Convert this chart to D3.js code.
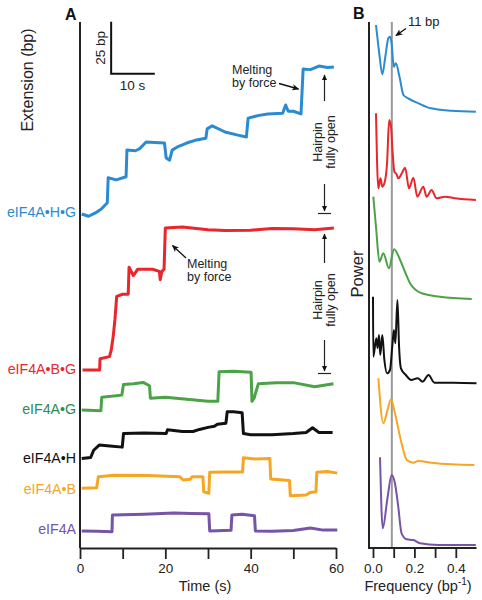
<!DOCTYPE html>
<html><head><meta charset="utf-8">
<script src="https://cdn.jsdelivr.net/npm/d3@7"></script>
<style>body{margin:0;background:#fff}svg{display:block}text{font-family:"Liberation Sans",Arial,Helvetica,sans-serif}</style>
</head><body><svg id="c" width="482" height="600"></svg>
<script>
// ---------- DATA ----------
const seriesNames = ["eIF4A•H•G","eIF4A•B•G","eIF4A•G","eIF4A•H","eIF4A•B","eIF4A"];
const seriesColors = ["#2a8bd0","#e8262c","#4ca247","#111111","#f6a623","#7654a6"];
const labelColors  = ["#2a8bd0","#e8262c","#2e8a52","#111111","#f6a623","#7654a6"];
// Panel A traces: [time (s), extension (bp)]
const traceHG = [[0.4,160.6],[2,159.5],[3.5,161],[5,163],[6.4,166],[6.6,178],[8.5,177],[10.8,178.5],[11,191.3],[13,191],[14,192],[15.5,195.2],[17.5,195],[19.8,194.7],[20.2,187.5],[21,186.5],[21.6,191.3],[23,193],[25,194.7],[27,196],[29.5,197],[29.8,201.5],[31,203],[34,200],[37,198.5],[39,197.6],[39.4,206.7],[42,208],[44,208.7],[47.5,209],[48.2,213],[48.8,210],[50,210],[51.8,208.7],[52.3,230.3],[54,230],[55,230.8],[56,231.7],[58,231],[59.5,231.3]];
const traceBG = [[0.6,85.6],[4.6,85.6],[4.7,91],[6.9,92],[7.3,95],[7.8,102],[8.2,110],[8.6,121],[10,122],[11.3,122],[11.5,135],[12.5,131],[13.5,134],[17,134],[18.6,133],[18.8,129],[19.2,133],[19.7,134],[20.0,153.8],[24,154.3],[30,153],[34,152.6],[40,152.8],[45,153.6],[50,153.5],[55,153],[59.5,153.8]];
const traceG  = [[0.4,66.3],[4.9,66],[5.1,72.5],[9.8,73.5],[10.2,78.6],[12.5,79],[14.8,79.6],[16.3,78],[16.5,72],[20,72.5],[25,71.5],[30,70.6],[32.3,70.5],[32.6,84.8],[36,85],[40.1,84.5],[40.3,70.5],[40.8,72],[41.8,79],[46,79.5],[50,79.5],[55,77.5],[59.4,79]];
const traceH  = [[0.4,43],[2.5,43.5],[3.2,47],[4.5,49.5],[7,49],[9.9,48.5],[10.2,55],[15,55.3],[20.2,55],[20.5,56.8],[24,56],[26.5,56],[28,57],[30,58],[31.5,58.5],[32.2,59.5],[34.2,60],[34.5,65.5],[36,65.5],[38,65],[38.3,55],[40,54.5],[45,54.5],[50,55],[53,55.5],[54.5,57.8],[56,55.5],[59.2,55.5]];
const traceB  = [[0.4,28.7],[3.9,29],[4.3,34.3],[8,35],[16,34.8],[23.4,34.2],[24.2,32.7],[25.8,33],[26.3,34.3],[28.8,34.3],[29.0,27],[30.2,26.3],[30.4,36.4],[34,36.5],[38.1,36.5],[38.3,43.4],[41,42.8],[44.5,43],[44.7,33.2],[49.1,32.5],[49.3,25.1],[53,25.5],[53.9,26.7],[55.3,27],[55.5,36.4],[58,36.8],[60.3,36]];
const traceA  = [[0.4,8.2],[4,8],[7.5,7.8],[7.6,15.9],[15,16.2],[22,16.8],[26,16.6],[30.2,16.5],[30.4,8.2],[35.4,8.5],[35.6,15.9],[38,16.2],[40.9,15.5],[41.1,8.2],[45,8],[50,8.4],[54,9.6],[57,8.6],[60.3,8.6]];
const traces = [traceHG, traceBG, traceG, traceH, traceB, traceA];
// Panel B spectra: [frequency (bp^-1), power (a.u., offset per construct)]
const specHG = [[0.0145,523],[0.03,495],[0.045,473.7],[0.06,492],[0.074,509.7],[0.082,511.3],[0.09,504.7],[0.1,481.3],[0.11,484.7],[0.128,471.3],[0.147,453],[0.17,449.7],[0.22,444.7],[0.28,439.7],[0.38,437.3],[0.497,436.3]];
const specBG = [[0.0145,434.7],[0.0257,359.7],[0.036,369.7],[0.045,361.3],[0.055,364.7],[0.068,385],[0.078,428],[0.087,421.3],[0.095,395],[0.103,376.3],[0.114,373.7],[0.122,369.7],[0.14,375],[0.155,380.3],[0.174,359.7],[0.195,370.3],[0.214,351.3],[0.243,361.3],[0.259,351.3],[0.283,358],[0.307,349.7],[0.348,351.3],[0.396,349.7],[0.497,348]];
const specG  = [[0.0015,351.3],[0.015,320],[0.031,286.3],[0.05,294.7],[0.077,279.7],[0.102,298.7],[0.131,288],[0.155,276],[0.179,264.7],[0.235,254.7],[0.324,251.3],[0.477,249]];
const specH  = [[0,251.3],[0.0015,191.3],[0.016,209.7],[0.022,200],[0.029,213],[0.035,193],[0.045,213],[0.055,188],[0.068,174.7],[0.082,178],[0.093,201.3],[0.101,218],[0.108,204.7],[0.118,248],[0.126,201.3],[0.135,179.7],[0.159,173],[0.184,168],[0.216,169.7],[0.24,166.3],[0.268,173],[0.297,165.3],[0.39,165.3],[0.5,164.7]];
const specB  = [[0.026,169.7],[0.05,124.7],[0.07,138],[0.087,148.7],[0.106,134.7],[0.138,104.7],[0.163,88],[0.195,85.3],[0.219,87],[0.283,85.3],[0.38,83.7],[0.49,83]];
const specA  = [[0.034,90.7],[0.047,19.7],[0.07,50],[0.09,73],[0.106,64.7],[0.122,41.3],[0.138,14.7],[0.163,8.7],[0.195,8],[0.227,4.7],[0.316,3],[0.497,3]];
const spectra = [specHG, specBG, specG, specH, specB, specA];
const timeTicks = [0,10,20,30,40,50,60];
const timeTickLabels = ["0","","20","","40","","60"];
const freqTicks = [0,0.1,0.2,0.3,0.4];
const freqTickLabels = ["0.0","","0.2","","0.4"];
const peakFreq = 1/11;      // 11 bp periodicity
const scaleBar = {t0:7.3, bp0:228, dt:10, dbp:25};

// ---------- DRAW ----------
const svg = d3.select("#c");
const font = '"Liberation Sans",Arial,Helvetica,sans-serif';
const x = d3.scaleLinear().domain([0,60]).range([80,336]);
const y = d3.scaleLinear().domain([0,252.9]).range([548,22]);
const fx = d3.scaleLinear().domain([0,0.5]).range([373,476.5]);
const fy = d3.scaleLinear().domain([0,526]).range([548,22]);

const defs = svg.append("defs");
defs.append("marker").attr("id","ah").attr("viewBox","0 0 10 10").attr("refX",9).attr("refY",5)
  .attr("markerWidth",7).attr("markerHeight",7).attr("orient","auto-start-reverse").attr("markerUnits","userSpaceOnUse")
  .append("path").attr("d","M0,0.5L10,5L0,9.5L2.5,5Z").attr("fill","#111");
defs.append("marker").attr("id","ah2").attr("viewBox","0 0 10 10").attr("refX",9).attr("refY",5)
  .attr("markerWidth",6).attr("markerHeight",8).attr("orient","auto").attr("markerUnits","userSpaceOnUse")
  .append("path").attr("d","M0,0.5L10,5L0,9.5Z").attr("fill","#111");

// Panel A traces
const line = d3.line().x(d=>x(d[0])).y(d=>y(d[1]));
traces.forEach((tr,i)=>{
  svg.append("path").attr("d",line(tr)).attr("fill","none").attr("stroke",seriesColors[i])
    .attr("stroke-width",3).attr("stroke-linejoin","round");
});
// Panel A axes
svg.append("line").attr("x1",80).attr("x2",80).attr("y1",22).attr("y2",548).attr("stroke","#222").attr("stroke-width",2);
const ax = svg.append("g").attr("transform","translate(0,548)")
  .call(d3.axisBottom(x).tickValues(timeTicks).tickFormat((d,i)=>timeTickLabels[i]).tickSize(11).tickSizeOuter(0).tickPadding(4));
ax.select(".domain").attr("stroke","#222").attr("stroke-width",2);
ax.selectAll(".tick line").attr("stroke","#222").attr("stroke-width",1.8);
ax.selectAll("text").attr("font-size",13.5).attr("fill","#222").style("font-family",font);

svg.append("text").attr("x",205).attr("y",591).attr("text-anchor","middle").attr("font-size",14.5).attr("fill","#222").text("Time (s)");
svg.append("text").attr("transform","translate(33,80) rotate(-90)").attr("text-anchor","middle").attr("font-size",16).attr("fill","#222").text("Extension (bp)");
svg.append("text").attr("x",65).attr("y",20).attr("font-size",16).attr("font-weight","bold").attr("fill","#111").text("A");
svg.append("text").attr("x",353).attr("y",19).attr("font-size",16).attr("font-weight","bold").attr("fill","#111").text("B");

// Series labels
const labelY = [217,374,414,463,494,534];
seriesNames.forEach((n,i)=>{
  svg.append("text").attr("x",76).attr("y",labelY[i]).attr("text-anchor","end").attr("font-size",14.2)
    .attr("fill",labelColors[i]).text(n);
});

// Scale bar
svg.append("path").attr("d",`M${x(scaleBar.t0)},${y(scaleBar.bp0+scaleBar.dbp)}V${y(scaleBar.bp0)}H${x(scaleBar.t0+scaleBar.dt)+1}`)
  .attr("fill","none").attr("stroke","#111").attr("stroke-width",2);
svg.append("text").attr("transform",`translate(${x(scaleBar.t0)-6},${y(scaleBar.bp0+scaleBar.dbp/2)}) rotate(-90)`)
  .attr("text-anchor","middle").attr("font-size",13.5).attr("fill","#222").text("25 bp");
svg.append("text").attr("x",x(scaleBar.t0+scaleBar.dt/2)).attr("y",90).attr("text-anchor","middle").attr("font-size",13.5).attr("fill","#222").text("10 s");

// Annotations: Melting by force
function twoLine(xp,yp,a,b,fs){
  svg.append("text").attr("x",xp).attr("y",yp).attr("font-size",fs).attr("fill","#222").text(a);
  svg.append("text").attr("x",xp).attr("y",yp+fs).attr("font-size",fs).attr("fill","#222").text(b);
}
twoLine(232,74,"Melting","by force",12.5);
svg.append("line").attr("x1",279).attr("y1",83.5).attr("x2",298.5).attr("y2",89).attr("stroke","#111").attr("stroke-width",1.3).attr("marker-end","url(#ah)");
twoLine(187,268,"Melting","by force",12.5);
svg.append("line").attr("x1",186).attr("y1",258).attr("x2",172.5).attr("y2",245.5).attr("stroke","#111").attr("stroke-width",1.3).attr("marker-end","url(#ah)");

// Hairpin fully open
function hairpin(top,bot,cy,t1,b1){
  svg.append("line").attr("x1",324.5).attr("x2",324.5).attr("y1",t1).attr("y2",top).attr("stroke","#222").attr("stroke-width",1.2).attr("marker-end","url(#ah2)");
  svg.append("line").attr("x1",324.5).attr("x2",324.5).attr("y1",b1).attr("y2",bot-1).attr("stroke","#222").attr("stroke-width",1.2).attr("marker-end","url(#ah2)");
  svg.append("line").attr("x1",318).attr("x2",331).attr("y1",bot+1.5).attr("y2",bot+1.5).attr("stroke","#222").attr("stroke-width",1.2);
  svg.append("text").attr("transform",`translate(322,${cy}) rotate(-90)`).attr("text-anchor","middle").attr("font-size",12.5).attr("fill","#222").text("Hairpin");
  svg.append("text").attr("transform",`translate(335,${cy}) rotate(-90)`).attr("text-anchor","middle").attr("font-size",12.5).attr("fill","#222").text("fully open");
}
hairpin(75,212,142,101,184);
hairpin(234,372,300,263,340);

// Panel B
svg.append("line").attr("x1",fx(peakFreq)).attr("x2",fx(peakFreq)).attr("y1",22).attr("y2",548).attr("stroke","#999").attr("stroke-width",2);
const sline = d3.line().x(d=>fx(d[0])).y(d=>fy(d[1])).curve(d3.curveMonotoneX);
spectra.forEach((sp,i)=>{
  svg.append("path").attr("d",sline(sp)).attr("fill","none").attr("stroke",seriesColors[i]).attr("stroke-width",2).attr("stroke-linejoin","round");
});
svg.append("line").attr("x1",369).attr("x2",369).attr("y1",22).attr("y2",549).attr("stroke","#222").attr("stroke-width",2);
svg.append("line").attr("x1",368).attr("x2",476.5).attr("y1",548).attr("y2",548).attr("stroke","#222").attr("stroke-width",2);
const bx = svg.append("g").attr("transform","translate(0,548)")
  .call(d3.axisBottom(fx).tickValues(freqTicks).tickFormat((d,i)=>freqTickLabels[i]).tickSize(10).tickSizeOuter(0).tickPadding(5));
bx.select(".domain").remove();
bx.selectAll(".tick line").attr("stroke","#222").attr("stroke-width",1.8);
bx.selectAll("text").attr("font-size",13.5).attr("fill","#222").style("font-family",font);

const fl = svg.append("text").attr("x",418).attr("y",591).attr("text-anchor","middle").attr("font-size",14.5).attr("fill","#222");
fl.append("tspan").text("Frequency (bp");
fl.append("tspan").attr("dy",-6).attr("font-size",10).text("-1");
fl.append("tspan").attr("dy",6).text(")");
svg.append("text").attr("transform","translate(363,274) rotate(-90)").attr("text-anchor","middle").attr("font-size",16.5).attr("fill","#222").text("Power");
svg.append("text").attr("x",408).attr("y",26).attr("font-size",13).attr("fill","#222").text("11 bp");
svg.append("line").attr("x1",406).attr("y1",28.5).attr("x2",396).attr("y2",35.5).attr("stroke","#111").attr("stroke-width",1.3).attr("marker-end","url(#ah)");
</script></body></html>
